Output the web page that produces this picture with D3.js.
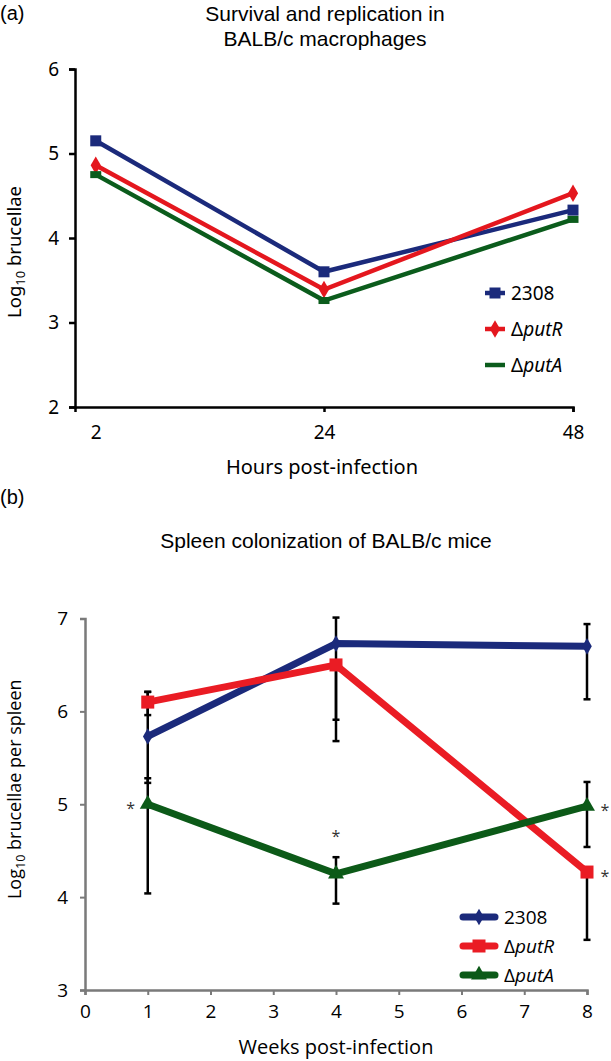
<!DOCTYPE html>
<html>
<head>
<meta charset="utf-8">
<script src="https://cdn.jsdelivr.net/npm/d3@7"></script>
<style>
  body { margin: 0; background: #fff; }
  svg { display: block; }
</style>
</head>
<body>
<script>
"use strict";

// panel (a): macrophages
const hours = [2, 24, 48];
const hourTicks = [2, 24, 48];
const macro2308 = [5.15, 3.60, 4.33];
const macroPutR = [4.86, 3.39, 4.53];
const macroPutA = [4.75, 3.26, 4.22];
const macroYTicks = [2, 3, 4, 5, 6];

// panel (b): spleen
const weeks = [1, 4, 8];
const weekTicks = [0, 1, 2, 3, 4, 5, 6, 7, 8];
const spleen2308 = [5.73, 6.73, 6.70];
const spleenPutR = [6.10, 6.50, 4.27];
const spleenPutA = [5.00, 4.25, 4.98];
// error bar ends [low, high]
const spleen2308Err = [[5.23, 6.21], [5.91, 7.01], [6.13, 6.94]];
const spleenPutRErr = [[5.96, 6.21], [5.68, 6.50], [3.54, 4.27]];
const spleenPutAErr = [[4.04, 5.28], [3.93, 4.43], [4.54, 5.24]];
const spleenPutRSig = [false, false, true];
const spleenPutASig = [true, true, true];
const spleenYTicks = [3, 4, 5, 6, 7];

const navy = "#1b2a7b", red = "#e4171e", green = "#0b5c1c";

const width = 611, height = 1061;
const svg = d3.select("body").append("svg")
    .attr("width", width)
    .attr("height", height);

const titleFont = "'Liberation Sans', Arial, sans-serif";

function seriesLabel(sel, name) {
    if (name === "2308") {
        sel.text(name);
    } else {
        sel.append("tspan").text("\u0394");
        sel.append("tspan").attr("font-style", "italic").text(name);
    }
}

function logLabel(sel, rest) {
    sel.append("tspan").text("Log");
    sel.append("tspan").attr("font-size", "0.7em").attr("dy", "0.3em").text("10");
    sel.append("tspan").attr("dy", "-0.21em").text(" " + rest);
}

// ---------- panel (a) ----------
(function() {
    const fontA = "'Noto Sans', sans-serif";
    const x = d3.scaleLinear().domain([0, 48]).range([75, 573]);
    const y = d3.scaleLinear().domain([2, 6]).range([407, 69]);
    const g = svg.append("g");

    svg.append("text").attr("x", 0).attr("y", 20)
        .attr("font-family", titleFont)
        .attr("font-size", 20).text("(a)");
    const title = svg.append("text")
        .attr("text-anchor", "middle")
        .attr("font-family", titleFont)
        .attr("font-size", 21);
    title.append("tspan").attr("x", 325).attr("y", 21).text("Survival and replication in");
    title.append("tspan").attr("x", 325).attr("y", 46).text("BALB/c macrophages");

    const yAxis = g.append("g")
        .attr("transform", `translate(${x(0)},0)`)
        .call(d3.axisLeft(y).tickValues(macroYTicks).tickSize(6).tickPadding(10).tickFormat(d3.format("d")));
    const xAxis = g.append("g")
        .attr("transform", `translate(0,${y(2)})`)
        .call(d3.axisBottom(x).tickValues(hourTicks).tickSize(5).tickPadding(14));
    [xAxis, yAxis].forEach(a => {
        a.select(".domain").attr("stroke", "#000").attr("stroke-width", 2.5);
        a.selectAll(".tick line").attr("stroke", "#000").attr("stroke-width", 2.5);
        a.selectAll(".tick text").attr("font-family", fontA).attr("font-size", 19).attr("fill", "#000");
    });
    xAxis.selectAll(".tick").filter(d => d === 2).select("line").remove();

    svg.append("text")
        .attr("x", 322).attr("y", 474).attr("text-anchor", "middle")
        .attr("font-family", fontA).attr("font-size", 20)
        .text("Hours post-infection");
    svg.append("text")
        .attr("transform", `translate(21,${(y(2) + y(6)) / 2 + 14}) rotate(-90)`)
        .attr("text-anchor", "middle")
        .attr("font-family", fontA).attr("font-size", 18.5)
        .call(logLabel, "brucellae");

    const series = [
        { name: "2308", values: macro2308, color: navy, marker: "square" },
        { name: "putR", values: macroPutR, color: red, marker: "diamond" },
        { name: "putA", values: macroPutA, color: green, marker: "dash" }
    ];

    const line = d3.line().x((d, i) => x(hours[i])).y(d => y(d));

    function marker(sel, kind, color) {
        if (kind === "square") {
            sel.append("rect").attr("x", -5.5).attr("y", -5.5).attr("width", 11).attr("height", 11).attr("fill", color);
        } else if (kind === "diamond") {
            sel.append("path").attr("d", d3.symbol(d3.symbolDiamond, 90)()).attr("fill", color);
        } else {
            sel.append("rect").attr("x", -5.5).attr("y", -3.5).attr("width", 11).attr("height", 7).attr("fill", color);
        }
    }

    series.forEach(s => {
        g.append("path").datum(s.values)
            .attr("d", line)
            .attr("fill", "none")
            .attr("stroke", s.color)
            .attr("stroke-width", 4.5);
        g.selectAll(null).data(s.values).enter().append("g")
            .attr("transform", (d, i) => `translate(${x(hours[i])},${y(d)})`)
            .each(function() { marker(d3.select(this), s.marker, s.color); });
    });

    const legend = g.append("g").attr("transform", "translate(485,293)");
    series.forEach((s, i) => {
        const row = legend.append("g").attr("transform", `translate(0,${i * 36})`);
        row.append("line").attr("x1", 0).attr("x2", 20).attr("stroke", s.color).attr("stroke-width", 4.5);
        const m = row.append("g").attr("transform", "translate(10,0)");
        if (s.marker !== "dash") marker(m, s.marker, s.color);
        row.append("text").attr("x", 26).attr("y", 7)
            .attr("font-family", fontA).attr("font-size", 19)
            .call(seriesLabel, s.name);
    });
})();

// ---------- panel (b) ----------
(function() {
    const fontB = "'Open Sans', sans-serif";
    const axisGray = "#7a7a7a";
    const x = d3.scaleLinear().domain([0, 8]).range([85, 587]);
    const y = d3.scaleLinear().domain([3, 7]).range([990, 618.5]);
    const g = svg.append("g");

    svg.append("text").attr("x", 0).attr("y", 504)
        .attr("font-family", titleFont)
        .attr("font-size", 20).text("(b)");
    svg.append("text")
        .attr("x", 326).attr("y", 548).attr("text-anchor", "middle")
        .attr("font-family", titleFont)
        .attr("font-size", 21)
        .text("Spleen colonization of BALB/c mice");

    const yAxis = g.append("g")
        .attr("transform", `translate(${x(0)},0)`)
        .call(d3.axisLeft(y).tickValues(spleenYTicks).tickSize(5).tickPadding(12).tickFormat(d3.format("d")));
    const xAxis = g.append("g")
        .attr("transform", `translate(0,${y(3)})`)
        .call(d3.axisBottom(x).tickValues(weekTicks).tickSize(5).tickPadding(10).tickFormat(d3.format("d")));
    [xAxis, yAxis].forEach(a => {
        a.select(".domain").attr("stroke", axisGray).attr("stroke-width", 2.5);
        a.selectAll(".tick line").attr("stroke", axisGray).attr("stroke-width", 2);
        a.selectAll(".tick text").attr("font-family", fontB).attr("font-size", 19).attr("fill", "#000");
    });

    svg.append("text")
        .attr("x", 336).attr("y", 1054).attr("text-anchor", "middle")
        .attr("font-family", fontB).attr("font-size", 20)
        .text("Weeks post-infection");
    svg.append("text")
        .attr("transform", `translate(21,${(y(3) + y(7)) / 2 - 15}) rotate(-90)`)
        .attr("text-anchor", "middle")
        .attr("font-family", fontB).attr("font-size", 18)
        .call(logLabel, "brucellae per spleen");

    const series = [
        { name: "2308", values: spleen2308, err: spleen2308Err, color: navy, marker: "diamond", sig: [false, false, false] },
        { name: "putR", values: spleenPutR, err: spleenPutRErr, color: "#ea1c24", marker: "square", sig: spleenPutRSig },
        { name: "putA", values: spleenPutA, err: spleenPutAErr, color: "#0c5a18", marker: "triangle", sig: spleenPutASig }
    ];

    // error bars
    const errG = g.append("g");
    series.forEach(s => {
        s.err.forEach((e, i) => {
            const cx = x(weeks[i]);
            errG.append("line").attr("x1", cx).attr("x2", cx)
                .attr("y1", y(e[0])).attr("y2", y(e[1]))
                .attr("stroke", "#000").attr("stroke-width", 2.5);
            e.forEach(v => {
                errG.append("line").attr("x1", cx - 3.5).attr("x2", cx + 3.5)
                    .attr("y1", y(v)).attr("y2", y(v))
                    .attr("stroke", "#000").attr("stroke-width", 2.5);
            });
        });
    });

    const line = d3.line().x((d, i) => x(weeks[i])).y(d => y(d));

    function marker(sel, kind, color) {
        if (kind === "square") {
            sel.append("rect").attr("x", -6.5).attr("y", -6.5).attr("width", 13).attr("height", 13).attr("fill", color);
        } else if (kind === "diamond") {
            sel.append("path").attr("d", d3.symbol(d3.symbolDiamond, 80)()).attr("fill", color);
        } else {
            sel.append("path").attr("d", d3.symbol(d3.symbolTriangle, 110)()).attr("fill", color);
        }
    }

    series.forEach(s => {
        g.append("path").datum(s.values)
            .attr("d", line)
            .attr("fill", "none")
            .attr("stroke", s.color)
            .attr("stroke-width", 7);
        g.selectAll(null).data(s.values).enter().append("g")
            .attr("transform", (d, i) => `translate(${x(weeks[i])},${y(d)})`)
            .each(function() { marker(d3.select(this), s.marker, s.color); });
    });

    // significance asterisks
    series.forEach(s => {
        s.sig.forEach((on, i) => {
            if (!on) return;
            let ax = x(weeks[i]), ay = y(s.values[i]) + 10;
            if (i === 0) ax -= 17;
            else if (i === weeks.length - 1) ax += 18;
            else ay = y(s.err[i][1]) - 15;
            g.append("text").attr("x", ax).attr("y", ay)
                .attr("text-anchor", "middle")
                .attr("font-family", fontB).attr("font-size", 16)
                .attr("fill", "#333").text("*");
        });
    });

    const legend = g.append("g").attr("transform", "translate(463,917)");
    series.forEach((s, i) => {
        const row = legend.append("g").attr("transform", `translate(0,${i * 29})`);
        row.append("line").attr("x1", 0).attr("x2", 32).attr("stroke", s.color)
            .attr("stroke-width", 7).attr("stroke-linecap", "round");
        const m = row.append("g").attr("transform", "translate(16,0)");
        marker(m, s.marker, s.color);
        row.append("text").attr("x", 41).attr("y", 7)
            .attr("font-family", fontB).attr("font-size", 19)
            .call(seriesLabel, s.name);
    });
})();
</script>
</body>
</html>
